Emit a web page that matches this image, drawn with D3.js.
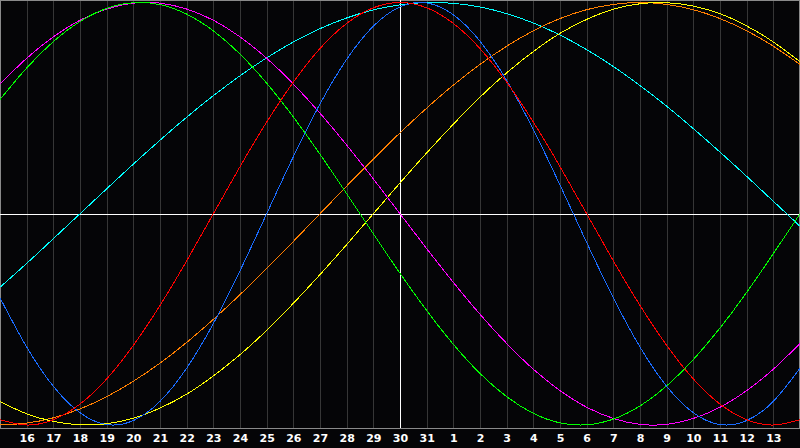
<!DOCTYPE html>
<html>
<head>
<meta charset="utf-8">
<script src="https://cdn.jsdelivr.net/npm/d3@7"></script>
<style>
  html, body { margin: 0; padding: 0; background: #050507; }
  svg { display: block; }
</style>
</head>
<body>
<svg id="chart" width="800" height="448"></svg>
<script>
// Day offsets relative to the centre day (the 30th)
const dayOffsets = d3.range(-15, 16);
// Tick labels for offsets -14 .. 14
const tickLabels = ["16","17","18","19","20","21","22","23","24","25","26","27","28","29","30","31",
                    "1","2","3","4","5","6","7","8","9","10","11","12","13"];

// Cycle values read at each day (offset -15 .. 15)
const physical = [-0.398,-0.631,-0.817,-0.942,-0.998,-0.979,-0.888,-0.731,-0.520,-0.270,0,0.270,0.520,0.731,0.888,0.979,
                  0.998,0.942,0.817,0.631,0.398,0.136,-0.136,-0.398,-0.631,-0.817,-0.942,-0.998,-0.979,-0.888,-0.731];
const emotional = [-0.975,-1,-0.975,-0.901,-0.782,-0.623,-0.434,-0.223,0,0.223,0.434,0.623,0.782,0.901,0.975,1,
                   0.975,0.901,0.782,0.623,0.434,0.223,0,-0.223,-0.434,-0.623,-0.782,-0.901,-0.975,-1,-0.975];
const intellectual = [0.541,0.690,0.815,0.910,0.972,0.999,0.990,0.945,0.866,0.756,0.618,0.458,0.282,0.095,-0.095,-0.282,
                      -0.458,-0.618,-0.756,-0.866,-0.945,-0.990,-0.999,-0.972,-0.910,-0.815,-0.690,-0.541,-0.372,-0.189,0];
const intuitive = [0.614,0.736,0.837,0.916,0.969,0.997,0.997,0.969,0.916,0.837,0.736,0.614,0.476,0.325,0.165,0,
                   -0.165,-0.325,-0.476,-0.614,-0.736,-0.837,-0.916,-0.969,-0.997,-0.997,-0.969,-0.916,-0.837,-0.736,-0.614];
const spiritual = [-0.348,-0.235,-0.118,0,0.118,0.235,0.348,0.457,0.559,0.653,0.738,0.813,0.876,0.927,0.965,0.989,
                   1.000,0.996,0.979,0.947,0.903,0.846,0.777,0.697,0.607,0.509,0.403,0.292,0.177,0.059,-0.059];
const awareness = [-1,-0.991,-0.966,-0.924,-0.866,-0.793,-0.707,-0.609,-0.5,-0.383,-0.259,-0.131,0,0.131,0.259,0.383,
                   0.5,0.609,0.707,0.793,0.866,0.924,0.966,0.991,1,0.991,0.966,0.924,0.866,0.793,0.707];
const aesthetic = [-0.889,-0.947,-0.983,-0.999,-0.994,-0.968,-0.920,-0.854,-0.768,-0.667,-0.552,-0.424,-0.288,-0.146,0,0.146,
                   0.288,0.424,0.552,0.667,0.768,0.854,0.920,0.968,0.994,0.999,0.983,0.947,0.889,0.813,0.720];

const seriesNames = ["spiritual","awareness","aesthetic","intuitive","intellectual","physical","emotional"];
const seriesValues = [spiritual, awareness, aesthetic, intuitive, intellectual, physical, emotional];
const seriesColors = ["#00ffff","#ff7f00","#ffff00","#ff00ff","#00ff00","#1a6cff","#ff0000"];

const svg = d3.select("#chart");
const W = 800, plotBottom = 428;

const x = d3.scaleLinear().domain([-15, 15]).range([0, W]);
const y = d3.scaleLinear().domain([-1, 1]).range([425, 2.5]);

// background
svg.append("rect").attr("width", 800).attr("height", 448).attr("fill", "#050507");

// vertical day grid
svg.append("g")
  .selectAll("line")
  .data(dayOffsets.filter(d => d !== 0 && d > -15 && d < 15))
  .join("line")
  .attr("x1", d => Math.round(x(d)) + 0.5)
  .attr("x2", d => Math.round(x(d)) + 0.5)
  .attr("y1", 0).attr("y2", plotBottom)
  .attr("stroke", "#363636")
  .attr("stroke-width", 1)
  .attr("shape-rendering", "crispEdges");

// frame
svg.append("rect")
  .attr("x", 0.5).attr("y", 0.5)
  .attr("width", W - 1).attr("height", plotBottom)
  .attr("fill", "none")
  .attr("stroke", "#8a8a8a")
  .attr("shape-rendering", "crispEdges");

// centre cross
svg.append("line")
  .attr("x1", 0).attr("x2", W)
  .attr("y1", Math.round(y(0)) + 0.5).attr("y2", Math.round(y(0)) + 0.5)
  .attr("stroke", "#ffffff").attr("shape-rendering", "crispEdges");
svg.append("line")
  .attr("x1", Math.round(x(0)) + 0.5).attr("x2", Math.round(x(0)) + 0.5)
  .attr("y1", 0).attr("y2", plotBottom)
  .attr("stroke", "#ffffff").attr("shape-rendering", "crispEdges");

// curves
const line = d3.line()
  .x((v, i) => x(dayOffsets[i]))
  .y(v => y(v))
  .curve(d3.curveNatural);

svg.append("g")
  .selectAll("path")
  .data(seriesValues)
  .join("path")
  .attr("d", d => line(d))
  .attr("fill", "none")
  .attr("stroke", (d, i) => seriesColors[i])
  .attr("stroke-width", 1)
  .attr("shape-rendering", "crispEdges");

// x axis tick labels
const axis = d3.axisBottom(x)
  .tickValues(d3.range(-14, 15))
  .tickFormat((d, i) => tickLabels[i])
  .tickSize(0)
  .tickPadding(0);

const gAxis = svg.append("g")
  .attr("transform", `translate(0, ${plotBottom + 6})`)
  .call(axis);
gAxis.select(".domain").remove();
gAxis.selectAll("text")
  .attr("fill", "#ffffff")
  .attr("font-family", "'DejaVu Sans', sans-serif")
  .attr("font-weight", "bold")
  .attr("font-size", "11px");
</script>
</body>
</html>
